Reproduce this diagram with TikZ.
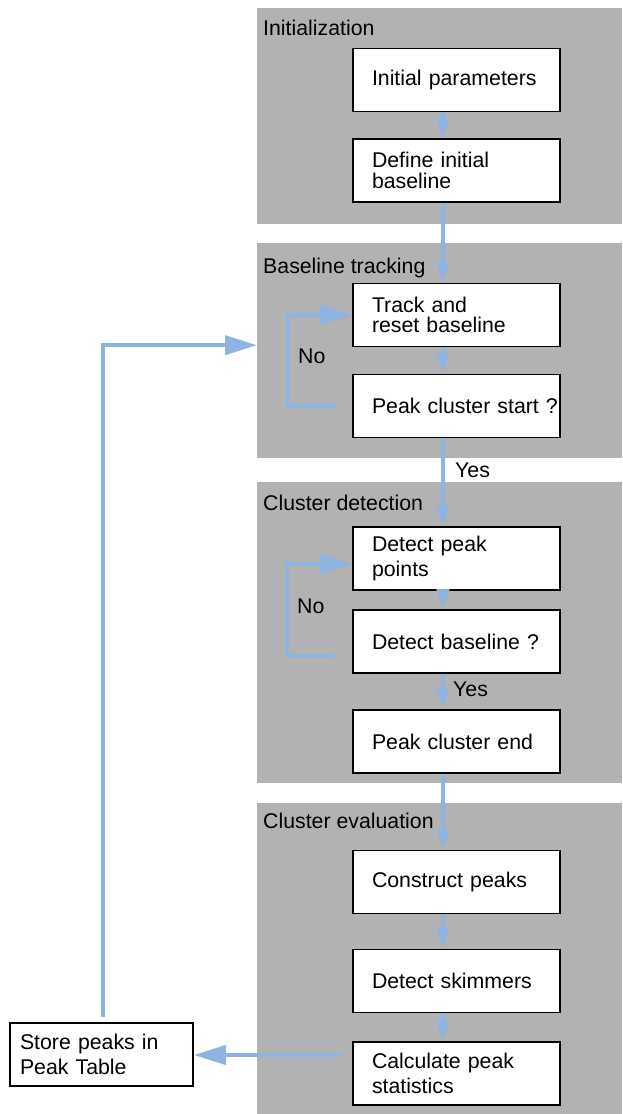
\documentclass[tikz,border=0pt]{standalone}
\usepackage{fontspec}
\setmainfont{Liberation Sans}
\usetikzlibrary{arrows.meta,calc}
\definecolor{panelgray}{HTML}{B2B2B2}
\definecolor{flowblue}{HTML}{8EB4E3}
\newcommand\fsz{\fontsize{21.3pt}{20.5pt}\selectfont}
\newcommand\fszw{\fontsize{21.3pt}{25.5pt}\selectfont}
\newcommand\ind{\hspace*{19pt}}
\newcommand\indS{\hspace*{10pt}}
\begin{document}
\begin{tikzpicture}[x=1pt,y=-1pt,
 panel/.style={fill=panelgray, draw=none, anchor=north west, inner sep=0pt, minimum width=365pt},
 plabel/.style={anchor=base west, inner sep=0pt, font=\fsz},
 stepbox/.style={draw=black, line width=1.6pt, fill=white, minimum height=63pt, text width=207pt, inner xsep=0pt, inner ysep=0pt, align=left, font=\fsz},
 flow/.style={draw=flowblue, line width=4pt, -{Triangle[length=20pt,width=12pt]}},
 bigflow/.style={draw=flowblue, line width=4pt, -{Triangle[length=32pt,width=19pt]}},
 lbl/.style={anchor=base west, inner sep=0pt, font=\fsz}]

\useasboundingbox (0,0) rectangle (622,1114);

% panels
\node[panel, minimum height=216pt] (p1) at (257,8) {};
\node[panel, minimum height=215pt] (p2) at (257,243) {};
\node[panel, minimum height=301pt] (p3) at (257,482) {};
\node[panel, minimum height=311pt] (p4) at (257,803) {};

\node[plabel] (pl1) at (263,35) {Initialization};
\node[plabel] (pl2) at (263,273) {Baseline tracking};
\node[plabel] (pl3) at (263,510) {Cluster detection};
\node[plabel] (pl4) at (263,828) {Cluster evaluation};

% boxes
\node[stepbox] (b1) at (456.5,80) {\ind Initial parameters};
\node[stepbox] (b2) at (456.5,170.5) {\ind Define initial\\\ind baseline};
\node[stepbox] (b3) at (456.5,315) {\ind Track and\\\ind reset baseline};
\node[stepbox] (b4) at (456.5,406) {\ind Peak cluster start ?};
\node[stepbox, font=\fszw] (b5) at (456.5,558.5) {\ind Detect peak\\\ind points};
\node[stepbox] (b6) at (456.5,641.5) {\ind Detect baseline ?};
\node[stepbox] (b7) at (456.5,741.5) {\ind Peak cluster end};
\node[stepbox] (b8) at (456.5,882) {\ind Construct peaks};
\node[stepbox] (b9) at (456.5,981) {\ind Detect skimmers};
\node[stepbox, font=\fszw] (b10) at (456.5,1073.5) {\ind Calculate peak\\\ind statistics};
\node[stepbox, font=\fszw, text width=183pt] (b11) at (101.5,1054.5) {\indS Store peaks in\\\indS Peak Table};

% main vertical flow
\coordinate (ax) at (443,0);
\draw[flow] (b1.south -| ax) -- (b2.north -| ax);
\draw[flow] (b2.south -| ax) -- (b3.north -| ax);
\draw[flow] (b3.south -| ax) -- (b4.north -| ax);
\draw[flow] (b4.south -| ax) -- (b5.north -| ax);
\draw[flow] (b5.south -| ax) -- (b6.north -| ax);
\draw[flow] (b6.south -| ax) -- (b7.north -| ax);
\draw[flow] (b7.south -| ax) -- (b8.north -| ax);
\draw[flow] (b8.south -| ax) -- (b9.north -| ax);
\draw[flow] (b9.south -| ax) -- (b10.north -| ax);

\node[lbl] (yes1) at (455,477) {Yes};
\node[lbl] (yes2) at (453,696) {Yes};
\node[lbl] (no1) at (298,363) {No};
\node[lbl] (no2) at (297,613) {No};

% loops
\coordinate (lp1) at ($(b4.west)+(-16,0)$);
\draw[bigflow] (lp1) -- ++(-48,0) |- (b3.west);
\coordinate (lp2) at ($(b6.west)+(-17,14.5)$);
\draw[bigflow] (lp2) -- ++(-48,0) |- ([yshift=-5.5pt]b5.west);

% output and return
\coordinate (cs) at ($(b10.west)+(-11,-18.5)$);
\draw[bigflow] (cs) -- (cs -| b11.east);
\coordinate (rs) at ($(b11.north)+(1.5,-5)$);
\coordinate (rt) at ($(p2.west)+(0,-5.5)$);
\draw[bigflow] (rs) |- (rt);
\end{tikzpicture}
\end{document}
